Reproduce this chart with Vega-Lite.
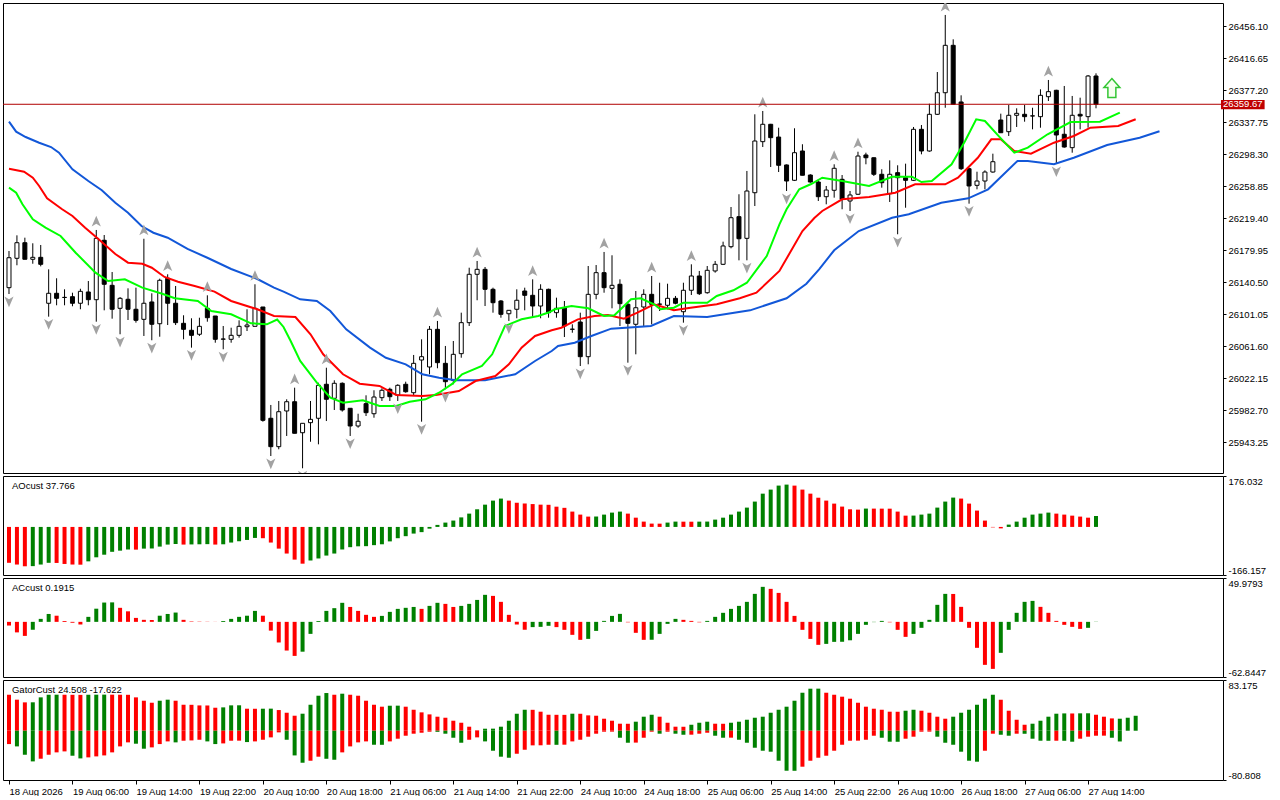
{
"$schema": "https://vega.github.io/schema/vega-lite/v6.json",
"background": "white",
"padding": {"left": 2, "top": 2, "right": 0, "bottom": 0},
"spacing": 3,
"bounds": "flush",
"config": {
 "font": "Liberation Sans",
 "view": {"stroke": "#000000", "strokeWidth": 1},
 "axis": {"grid": false, "domain": false, "labelFont": "Liberation Sans", "labelFontSize": 9.5, "labelColor": "#000000", "tickColor": "#000000", "tickSize": 3, "labelPadding": 2, "labelOverlap": false}
},
"datasets": {
 "candles": [
{"i":0,"o":26133.7,"h":26178.9,"l":26125.9,"c":26170.6,"fd":1},
{"i":1,"o":26169.9,"h":26198.2,"l":26161.3,"c":26189.1},
{"i":2,"o":26189.1,"h":26195.3,"l":26168.7,"c":26168.7},
{"i":3,"o":26168.7,"h":26188.4,"l":26163.2,"c":26171.1},
{"i":4,"o":26171.1,"h":26186.3,"l":26160.0,"c":26162.5},
{"i":5,"o":26114.5,"h":26156.3,"l":26098.0,"c":26126.8,"fd":1},
{"i":6,"o":26126.8,"h":26145.3,"l":26112.0,"c":26120.6},
{"i":7,"o":26121.6,"h":26131.7,"l":26112.0,"c":26121.8},
{"i":8,"o":26122.6,"h":26127.5,"l":26110.8,"c":26114.5},
{"i":9,"o":26114.5,"h":26132.4,"l":26107.1,"c":26129.2},
{"i":10,"o":26128.4,"h":26141.9,"l":26112.0,"c":26118.9},
{"i":11,"o":26118.9,"h":26204.8,"l":26091.8,"c":26194.5,"fu":1,"fd":1},
{"i":12,"o":26192.1,"h":26198.6,"l":26105.8,"c":26137.9},
{"i":13,"o":26136.6,"h":26153.0,"l":26095.5,"c":26107.1},
{"i":14,"o":26108.3,"h":26122.2,"l":26076.3,"c":26120.6,"fd":1},
{"i":15,"o":26119.4,"h":26132.9,"l":26093.9,"c":26107.1},
{"i":16,"o":26107.1,"h":26133.7,"l":26090.6,"c":26093.5},
{"i":17,"o":26094.7,"h":26194.0,"l":26074.2,"c":26114.5,"fu":1},
{"i":18,"o":26116.1,"h":26126.8,"l":26068.9,"c":26088.6,"fd":1},
{"i":19,"o":26089.3,"h":26144.8,"l":26073.3,"c":26142.8},
{"i":20,"o":26145.3,"h":26150.2,"l":26087.7,"c":26114.5,"fu":1},
{"i":21,"o":26114.5,"h":26135.8,"l":26087.7,"c":26090.6},
{"i":22,"o":26089.8,"h":26099.7,"l":26070.1,"c":26082.4},
{"i":23,"o":26081.2,"h":26096.0,"l":26059.8,"c":26075.0,"fd":1},
{"i":24,"o":26076.3,"h":26096.7,"l":26074.2,"c":26086.1},
{"i":25,"o":26108.3,"h":26124.3,"l":26091.8,"c":26096.7,"fu":1},
{"i":26,"o":26098.8,"h":26098.8,"l":26065.9,"c":26070.1},
{"i":27,"o":26070.2,"h":26086.5,"l":26057.8,"c":26070.5,"fd":1},
{"i":28,"o":26070.1,"h":26084.4,"l":26065.9,"c":26075.0},
{"i":29,"o":26075.0,"h":26093.5,"l":26072.1,"c":26086.1},
{"i":30,"o":26085.6,"h":26107.1,"l":26080.3,"c":26087.7},
{"i":31,"o":26086.1,"h":26137.9,"l":26086.1,"c":26108.3,"fu":1},
{"i":32,"o":26109.9,"h":26109.9,"l":25968.6,"c":25970.3},
{"i":33,"o":25972.8,"h":25989.2,"l":25926.3,"c":25937.8,"fd":1},
{"i":34,"o":25937.8,"h":25994.1,"l":25934.6,"c":25980.9},
{"i":35,"o":25981.8,"h":25996.2,"l":25951.0,"c":25993.2},
{"i":36,"o":25993.2,"h":26010.5,"l":25954.3,"c":25954.3,"fu":1},
{"i":37,"o":25955.0,"h":25966.6,"l":25911.2,"c":25966.6,"fd":1},
{"i":38,"o":25967.4,"h":25994.1,"l":25943.9,"c":25971.5},
{"i":39,"o":25972.8,"h":26016.6,"l":25940.7,"c":26013.4},
{"i":40,"o":26014.7,"h":26035.1,"l":25969.4,"c":25996.2,"fu":1},
{"i":41,"o":25997.4,"h":26019.6,"l":25983.0,"c":26015.9},
{"i":42,"o":26015.9,"h":26017.0,"l":25981.0,"c":25983.0},
{"i":43,"o":25985.1,"h":25985.1,"l":25951.0,"c":25963.3,"fd":1},
{"i":44,"o":25963.3,"h":25978.4,"l":25961.2,"c":25969.1},
{"i":45,"o":25990.8,"h":26001.1,"l":25975.6,"c":25979.7},
{"i":46,"o":25978.4,"h":26007.3,"l":25973.5,"c":25999.0},
{"i":47,"o":25998.2,"h":26009.7,"l":25994.1,"c":26007.3},
{"i":48,"o":26008.5,"h":26010.5,"l":25994.1,"c":25999.4},
{"i":49,"o":26001.5,"h":26014.7,"l":25994.1,"c":26013.4,"fd":1},
{"i":50,"o":26014.7,"h":26017.9,"l":26004.3,"c":26005.5},
{"i":51,"o":26004.3,"h":26050.8,"l":26000.2,"c":26040.5},
{"i":52,"o":26044.6,"h":26070.1,"l":25968.6,"c":26048.7,"fd":1},
{"i":53,"o":26036.0,"h":26086.5,"l":26027.0,"c":26082.4},
{"i":54,"o":26082.4,"h":26092.7,"l":26034.4,"c":26041.3,"fu":1},
{"i":55,"o":26040.5,"h":26061.9,"l":26008.5,"c":26017.9,"fd":1},
{"i":56,"o":26019.6,"h":26068.0,"l":26014.7,"c":26051.6},
{"i":57,"o":26052.4,"h":26102.9,"l":26047.4,"c":26090.6},
{"i":58,"o":26090.6,"h":26158.3,"l":26086.5,"c":26150.2},
{"i":59,"o":26150.2,"h":26166.6,"l":26118.2,"c":26156.3,"fu":1},
{"i":60,"o":26156.3,"h":26159.2,"l":26111.1,"c":26131.7},
{"i":61,"o":26131.7,"h":26133.7,"l":26102.9,"c":26115.2},
{"i":62,"o":26117.3,"h":26118.5,"l":26096.7,"c":26100.9},
{"i":63,"o":26101.6,"h":26105.8,"l":26092.7,"c":26105.8,"fd":1},
{"i":64,"o":26107.1,"h":26131.7,"l":26096.0,"c":26118.2},
{"i":65,"o":26129.6,"h":26133.7,"l":26105.8,"c":26124.3},
{"i":66,"o":26124.3,"h":26144.0,"l":26097.6,"c":26111.1,"fu":1},
{"i":67,"o":26111.1,"h":26137.9,"l":26096.0,"c":26131.7},
{"i":68,"o":26131.7,"h":26132.5,"l":26096.7,"c":26102.9},
{"i":69,"o":26102.9,"h":26121.4,"l":26096.7,"c":26108.3},
{"i":70,"o":26109.0,"h":26117.3,"l":26072.9,"c":26086.5},
{"i":71,"o":26082.4,"h":26088.6,"l":26078.2,"c":26082.6},
{"i":72,"o":26091.4,"h":26102.9,"l":26037.2,"c":26048.7,"fd":1},
{"i":73,"o":26048.7,"h":26160.4,"l":26039.3,"c":26125.5},
{"i":74,"o":26125.5,"h":26161.6,"l":26119.4,"c":26152.2},
{"i":75,"o":26152.2,"h":26177.7,"l":26127.5,"c":26133.7,"fu":1},
{"i":76,"o":26132.9,"h":26173.6,"l":26108.3,"c":26136.6},
{"i":77,"o":26137.9,"h":26144.0,"l":26086.5,"c":26114.0},
{"i":78,"o":26113.2,"h":26115.2,"l":26041.3,"c":26089.8,"fd":1},
{"i":79,"o":26088.6,"h":26129.6,"l":26051.6,"c":26109.0},
{"i":80,"o":26109.9,"h":26131.7,"l":26086.5,"c":26125.5},
{"i":81,"o":26125.5,"h":26148.1,"l":26088.6,"c":26113.2,"fu":1},
{"i":82,"o":26113.2,"h":26139.8,"l":26105.0,"c":26113.6},
{"i":83,"o":26112.0,"h":26138.6,"l":26107.1,"c":26120.6},
{"i":84,"o":26120.6,"h":26123.5,"l":26113.2,"c":26114.5},
{"i":85,"o":26104.1,"h":26139.8,"l":26090.6,"c":26130.5,"fd":1},
{"i":86,"o":26130.5,"h":26162.5,"l":26124.7,"c":26148.1,"fu":1},
{"i":87,"o":26148.1,"h":26154.3,"l":26124.7,"c":26126.3},
{"i":88,"o":26127.5,"h":26160.4,"l":26126.3,"c":26155.1},
{"i":89,"o":26154.3,"h":26166.6,"l":26152.2,"c":26162.5},
{"i":90,"o":26162.5,"h":26190.4,"l":26161.6,"c":26185.1},
{"i":91,"o":26184.2,"h":26233.1,"l":26182.2,"c":26219.9},
{"i":92,"o":26221.2,"h":26248.8,"l":26167.4,"c":26194.0},
{"i":93,"o":26194.5,"h":26277.5,"l":26167.4,"c":26252.8,"fd":1},
{"i":94,"o":26250.7,"h":26347.3,"l":26234.3,"c":26314.4},
{"i":95,"o":26313.6,"h":26351.4,"l":26307.0,"c":26335.0,"fu":1},
{"i":96,"o":26335.0,"h":26335.5,"l":26282.4,"c":26318.5},
{"i":97,"o":26319.3,"h":26330.8,"l":26276.2,"c":26284.5},
{"i":98,"o":26284.9,"h":26285.5,"l":26252.8,"c":26265.1,"fd":1},
{"i":99,"o":26266.0,"h":26330.1,"l":26265.1,"c":26300.0},
{"i":100,"o":26302.1,"h":26310.4,"l":26272.2,"c":26272.2},
{"i":101,"o":26272.5,"h":26273.4,"l":26263.0,"c":26263.9},
{"i":102,"o":26263.9,"h":26267.2,"l":26240.5,"c":26245.8},
{"i":103,"o":26245.8,"h":26259.0,"l":26236.4,"c":26254.0},
{"i":104,"o":26253.7,"h":26285.7,"l":26244.6,"c":26280.8,"fu":1},
{"i":105,"o":26267.2,"h":26272.5,"l":26230.3,"c":26242.6},
{"i":106,"o":26240.5,"h":26252.8,"l":26228.2,"c":26247.9,"fd":1},
{"i":107,"o":26248.8,"h":26301.2,"l":26247.9,"c":26295.9,"fu":1},
{"i":108,"o":26297.2,"h":26300.0,"l":26285.7,"c":26293.8},
{"i":109,"o":26293.8,"h":26294.0,"l":26271.3,"c":26273.4},
{"i":110,"o":26273.4,"h":26279.6,"l":26256.9,"c":26263.0},
{"i":111,"o":26249.5,"h":26290.6,"l":26239.3,"c":26273.4},
{"i":112,"o":26275.4,"h":26284.5,"l":26199.5,"c":26269.2,"fd":1},
{"i":113,"o":26269.2,"h":26286.5,"l":26232.2,"c":26266.0},
{"i":114,"o":26266.0,"h":26331.7,"l":26265.1,"c":26328.8},
{"i":115,"o":26328.8,"h":26334.1,"l":26298.0,"c":26302.1},
{"i":116,"o":26302.1,"h":26360.4,"l":26301.2,"c":26347.3},
{"i":117,"o":26347.3,"h":26399.4,"l":26346.5,"c":26373.9},
{"i":118,"o":26373.9,"h":26469.7,"l":26355.4,"c":26432.3,"fu":1},
{"i":119,"o":26432.3,"h":26439.7,"l":26359.0,"c":26359.6},
{"i":120,"o":26362.5,"h":26370.7,"l":26278.7,"c":26280.3},
{"i":121,"o":26280.3,"h":26281.5,"l":26237.2,"c":26259.0,"fd":1},
{"i":122,"o":26259.8,"h":26276.6,"l":26254.9,"c":26265.1},
{"i":123,"o":26265.1,"h":26278.3,"l":26254.9,"c":26276.2},
{"i":124,"o":26276.2,"h":26298.8,"l":26275.4,"c":26288.9},
{"i":125,"o":26340.3,"h":26348.1,"l":26324.6,"c":26324.6},
{"i":126,"o":26325.9,"h":26358.8,"l":26320.6,"c":26346.1},
{"i":127,"o":26346.1,"h":26354.7,"l":26331.7,"c":26348.5},
{"i":128,"o":26347.3,"h":26358.8,"l":26338.2,"c":26344.4},
{"i":129,"o":26345.2,"h":26355.4,"l":26328.8,"c":26345.4},
{"i":130,"o":26344.4,"h":26378.1,"l":26330.8,"c":26370.7},
{"i":131,"o":26369.0,"h":26389.6,"l":26363.7,"c":26375.2,"fu":1},
{"i":132,"o":26376.9,"h":26377.5,"l":26286.1,"c":26321.8,"fd":1},
{"i":133,"o":26322.7,"h":26382.2,"l":26306.2,"c":26307.0},
{"i":134,"o":26306.2,"h":26369.9,"l":26300.0,"c":26346.1},
{"i":135,"o":26347.3,"h":26367.8,"l":26328.8,"c":26345.2},
{"i":136,"o":26344.4,"h":26395.7,"l":26330.8,"c":26394.5},
{"i":137,"o":26394.5,"h":26397.8,"l":26354.7,"c":26359.67}
 ],
 "jaw": [
{"i":0,"v":26338.2},{"i":0.9,"v":26325.9},{"i":2.1,"v":26319.3},{"i":3.8,"v":26312.3},{"i":5.3,"v":26307.0},{"i":6.3,"v":26300.0},{"i":8.0,"v":26279.6},{"i":10.0,"v":26265.1},{"i":11.7,"v":26253.7},{"i":13.4,"v":26238.4},{"i":15.0,"v":26226.1},{"i":16.7,"v":26209.7},{"i":18.2,"v":26201.4},{"i":20,"v":26195.3},{"i":22.5,"v":26181.4},{"i":25,"v":26170.6},{"i":28,"v":26156.7},{"i":31.3,"v":26144.4},{"i":33.4,"v":26133.7},{"i":34.6,"v":26128.8},{"i":36.7,"v":26119.4},{"i":38.8,"v":26117.3},{"i":40.5,"v":26105.0},{"i":42.5,"v":26082.4},{"i":45.5,"v":26059.8},{"i":47.5,"v":26047.4},{"i":50,"v":26039.3},{"i":52.1,"v":26027.0},{"i":54.2,"v":26022.8},{"i":56.3,"v":26019.6},{"i":60,"v":26019.6},{"i":63.8,"v":26027.0},{"i":66.3,"v":26043.4},{"i":68.4,"v":26055.7},{"i":69.2,"v":26061.9},{"i":71.3,"v":26065.9},{"i":73.4,"v":26074.2},{"i":75.9,"v":26083.2},{"i":80.9,"v":26086.5},{"i":83.8,"v":26098.8},{"i":88,"v":26097.6},{"i":93.4,"v":26105.8},{"i":98,"v":26120.6},{"i":100.5,"v":26138.6},{"i":102.1,"v":26156.3},{"i":104,"v":26179.8},{"i":107.1,"v":26203.5},{"i":111.3,"v":26219.9},{"i":113.4,"v":26224.1},{"i":117.5,"v":26238.4},{"i":120.9,"v":26243.8},{"i":123.4,"v":26254.9},{"i":127.1,"v":26289.8},{"i":128.4,"v":26289.8},{"i":131.7,"v":26285.7},{"i":134.2,"v":26293.8},{"i":138.4,"v":26309.5},{"i":142.5,"v":26318.5},{"i":145,"v":26326.5}
 ],
 "teeth": [
{"i":0,"v":26280.3},{"i":1.9,"v":26276.6},{"i":3,"v":26269.2},{"i":3.8,"v":26259.0},{"i":4.8,"v":26243.8},{"i":6.7,"v":26230.3},{"i":8,"v":26222.0},{"i":9.6,"v":26207.6},{"i":11.3,"v":26193.3},{"i":13.4,"v":26175.2},{"i":15,"v":26164.5},{"i":16.8,"v":26163.2},{"i":18,"v":26158.3},{"i":19.6,"v":26146.9},{"i":21.3,"v":26141.1},{"i":23.4,"v":26135.8},{"i":25.9,"v":26128.8},{"i":28,"v":26117.3},{"i":31.3,"v":26107.1},{"i":33.4,"v":26098.8},{"i":36.1,"v":26097.6},{"i":38,"v":26076.3},{"i":39.6,"v":26051.6},{"i":42.1,"v":26027.0},{"i":44.2,"v":26015.4},{"i":46.7,"v":26012.6},{"i":48.8,"v":26001.5},{"i":52.1,"v":26000.2},{"i":53.8,"v":26001.5},{"i":56.7,"v":26006.4},{"i":58.8,"v":26018.7},{"i":61.3,"v":26024.9},{"i":63,"v":26039.3},{"i":64.6,"v":26059.8},{"i":66.3,"v":26074.2},{"i":68.4,"v":26081.2},{"i":69.6,"v":26084.4},{"i":71.7,"v":26094.7},{"i":73.8,"v":26098.8},{"i":75.5,"v":26100.0},{"i":77.5,"v":26095.5},{"i":79.2,"v":26102.9},{"i":81.3,"v":26113.2},{"i":83.8,"v":26105.8},{"i":85.9,"v":26109.0},{"i":89.2,"v":26113.2},{"i":92.1,"v":26120.6},{"i":94.2,"v":26127.5},{"i":97.1,"v":26154.3},{"i":100,"v":26203.5},{"i":101.5,"v":26219.6},{"i":102.5,"v":26228.2},{"i":105,"v":26242.6},{"i":108.4,"v":26245.4},{"i":111.7,"v":26250.7},{"i":114.2,"v":26261.1},{"i":118,"v":26261.1},{"i":119.6,"v":26269.2},{"i":122.1,"v":26293.8},{"i":123.8,"v":26316.5},{"i":125,"v":26316.5},{"i":126.7,"v":26302.1},{"i":128.8,"v":26298.8},{"i":131.7,"v":26312.3},{"i":134.2,"v":26320.6},{"i":136.3,"v":26330.8},{"i":139.8,"v":26332.9},{"i":142,"v":26341.2}
 ],
 "lips": [
{"i":0,"v":26256.9},{"i":0.9,"v":26250.7},{"i":1.7,"v":26236.4},{"i":3,"v":26218.0},{"i":4.6,"v":26207.6},{"i":6.5,"v":26197.4},{"i":8.4,"v":26176.8},{"i":10.9,"v":26152.2},{"i":12.5,"v":26141.9},{"i":14.6,"v":26144.0},{"i":16.8,"v":26133.7},{"i":19.3,"v":26126.3},{"i":20.9,"v":26120.6},{"i":23.8,"v":26117.3},{"i":25.5,"v":26105.0},{"i":28,"v":26100.9},{"i":30.5,"v":26089.8},{"i":32.5,"v":26088.6},{"i":33.8,"v":26094.5},{"i":34.6,"v":26085.3},{"i":35.5,"v":26068.0},{"i":36.7,"v":26043.4},{"i":38.8,"v":26016.6},{"i":40.5,"v":25998.2},{"i":42.1,"v":25992.0},{"i":44.6,"v":25995.0},{"i":46.7,"v":25987.9},{"i":48.8,"v":25987.9},{"i":50.5,"v":25993.2},{"i":52.5,"v":25996.2},{"i":54.2,"v":26004.3},{"i":55.9,"v":26015.4},{"i":57.1,"v":26027.0},{"i":59.6,"v":26037.2},{"i":60.9,"v":26051.6},{"i":62.5,"v":26086.5},{"i":64.6,"v":26094.7},{"i":66.7,"v":26098.8},{"i":68,"v":26103.1},{"i":68.8,"v":26107.1},{"i":70.9,"v":26111.1},{"i":73,"v":26108.3},{"i":75,"v":26098.8},{"i":76.3,"v":26099.7},{"i":78.4,"v":26119.4},{"i":79.6,"v":26120.6},{"i":81.3,"v":26113.2},{"i":82.1,"v":26107.1},{"i":83.8,"v":26109.0},{"i":85,"v":26115.2},{"i":88,"v":26115.2},{"i":89.2,"v":26123.5},{"i":91.3,"v":26130.5},{"i":93,"v":26139.8},{"i":95.5,"v":26172.7},{"i":97.1,"v":26211.8},{"i":98,"v":26230.3},{"i":99.6,"v":26254.9},{"i":101.1,"v":26261.4},{"i":102.5,"v":26269.2},{"i":105,"v":26265.1},{"i":108.4,"v":26259.0},{"i":111.3,"v":26270.4},{"i":113.8,"v":26270.4},{"i":115,"v":26263.9},{"i":116.3,"v":26265.1},{"i":118.8,"v":26285.7},{"i":120.5,"v":26314.4},{"i":121.9,"v":26341.2},{"i":123,"v":26339.1},{"i":125,"v":26317.7},{"i":126.7,"v":26300.0},{"i":128.4,"v":26306.2},{"i":130.9,"v":26322.7},{"i":133.8,"v":26337.8},{"i":137.5,"v":26338.2},{"i":140,"v":26349.3}
 ],
 "signal": [{"i":139,"p":26379.7}],
 "ind": [
{"i":0,"ao":-124,"aoc":"r","ac":-4.2,"acc":"r","gu":59,"guc":"r","gd":-21.9,"gdc":"r"},
{"i":1,"ao":-130,"aoc":"r","ac":-12,"acc":"r","gu":50.9,"guc":"r","gd":-25.7,"gdc":"g"},
{"i":2,"ao":-136,"aoc":"r","ac":-16,"acc":"r","gu":46.5,"guc":"r","gd":-39.4,"gdc":"g"},
{"i":3,"ao":-135.5,"aoc":"g","ac":-9,"acc":"g","gu":46.6,"guc":"g","gd":-50.3,"gdc":"g"},
{"i":4,"ao":-130,"aoc":"g","ac":3.4,"acc":"g","gu":54.7,"guc":"g","gd":-45.9,"gdc":"r"},
{"i":5,"ao":-124,"aoc":"g","ac":9,"acc":"g","gu":59,"guc":"g","gd":-39.4,"gdc":"r"},
{"i":6,"ao":-124.5,"aoc":"r","ac":7,"acc":"r","gu":59.1,"guc":"g","gd":-35.5,"gdc":"r"},
{"i":7,"ao":-128,"aoc":"r","ac":1,"acc":"r","gu":59,"guc":"r","gd":-33.9,"gdc":"r"},
{"i":8,"ao":-130,"aoc":"r","ac":-1,"acc":"r","gu":58.9,"guc":"r","gd":-41,"gdc":"g"},
{"i":9,"ao":-130.5,"aoc":"r","ac":-3,"acc":"r","gu":58.8,"guc":"r","gd":-45.4,"gdc":"g"},
{"i":10,"ao":-119,"aoc":"g","ac":5.7,"acc":"g","gu":59,"guc":"g","gd":-43.7,"gdc":"r"},
{"i":11,"ao":-105,"aoc":"g","ac":15,"acc":"g","gu":59.1,"guc":"g","gd":-42.1,"gdc":"r"},
{"i":12,"ao":-96,"aoc":"g","ac":22,"acc":"g","gu":59.2,"guc":"g","gd":-40.5,"gdc":"r"},
{"i":13,"ao":-86,"aoc":"g","ac":22.2,"acc":"g","gu":59.1,"guc":"r","gd":-35.5,"gdc":"r"},
{"i":14,"ao":-82,"aoc":"g","ac":16,"acc":"r","gu":59,"guc":"r","gd":-25.7,"gdc":"r"},
{"i":15,"ao":-78,"aoc":"g","ac":12,"acc":"r","gu":58.9,"guc":"r","gd":-19.1,"gdc":"r"},
{"i":16,"ao":-78.5,"aoc":"r","ac":4.5,"acc":"r","gu":54.7,"guc":"r","gd":-21.3,"gdc":"g"},
{"i":17,"ao":-75,"aoc":"g","ac":2.3,"acc":"r","gu":49.2,"guc":"r","gd":-29.5,"gdc":"g"},
{"i":18,"ao":-74.5,"aoc":"g","ac":2.1,"acc":"r","gu":45.9,"guc":"r","gd":-27.3,"gdc":"r"},
{"i":19,"ao":-68,"aoc":"g","ac":7,"acc":"g","gu":49.2,"guc":"g","gd":-21.9,"gdc":"r"},
{"i":20,"ao":-61,"aoc":"g","ac":9,"acc":"g","gu":50.9,"guc":"g","gd":-17.5,"gdc":"r"},
{"i":21,"ao":-59,"aoc":"g","ac":10.6,"acc":"g","gu":49.2,"guc":"r","gd":-19.1,"gdc":"g"},
{"i":22,"ao":-61,"aoc":"r","ac":2.3,"acc":"r","gu":42.6,"guc":"r","gd":-16.4,"gdc":"r"},
{"i":23,"ao":-60.5,"aoc":"g","ac":0.5,"acc":"r","gu":42.5,"guc":"r","gd":-15.9,"gdc":"r"},
{"i":24,"ao":-60,"aoc":"g","ac":0.3,"acc":"r","gu":41.5,"guc":"r","gd":-14.8,"gdc":"r"},
{"i":25,"ao":-59.5,"aoc":"g","ac":0.2,"acc":"r","gu":41.4,"guc":"r","gd":-17.5,"gdc":"g"},
{"i":26,"ao":-61,"aoc":"r","ac":0.1,"acc":"r","gu":37.7,"guc":"r","gd":-21.9,"gdc":"g"},
{"i":27,"ao":-60,"aoc":"g","ac":1,"acc":"g","gu":38.3,"guc":"g","gd":-20.8,"gdc":"r"},
{"i":28,"ao":-54,"aoc":"g","ac":3.4,"acc":"g","gu":41.6,"guc":"g","gd":-16.4,"gdc":"r"},
{"i":29,"ao":-49.5,"aoc":"g","ac":5.7,"acc":"g","gu":41.7,"guc":"g","gd":-16.3,"gdc":"r"},
{"i":30,"ao":-45,"aoc":"g","ac":7,"acc":"g","gu":36.1,"guc":"r","gd":-18.6,"gdc":"g"},
{"i":31,"ao":-38,"aoc":"g","ac":12.5,"acc":"g","gu":36,"guc":"r","gd":-17.5,"gdc":"r"},
{"i":32,"ao":-39,"aoc":"r","ac":7,"acc":"r","gu":36.1,"guc":"g","gd":-14.8,"gdc":"r"},
{"i":33,"ao":-54,"aoc":"r","ac":-10,"acc":"r","gu":36.2,"guc":"g","gd":-10.9,"gdc":"r"},
{"i":34,"ao":-75,"aoc":"r","ac":-23.5,"acc":"r","gu":33.9,"guc":"r","gd":-2.7,"gdc":"r"},
{"i":35,"ao":-92,"aoc":"r","ac":-32.7,"acc":"r","gu":29.5,"guc":"r","gd":-14.8,"gdc":"g"},
{"i":36,"ao":-113,"aoc":"r","ac":-38.8,"acc":"r","gu":24.6,"guc":"r","gd":-40.5,"gdc":"g"},
{"i":37,"ao":-127,"aoc":"r","ac":-34,"acc":"g","gu":27.9,"guc":"g","gd":-52.5,"gdc":"g"},
{"i":38,"ao":-116,"aoc":"g","ac":-13.7,"acc":"g","gu":42.6,"guc":"g","gd":-49.2,"gdc":"r"},
{"i":39,"ao":-109,"aoc":"g","ac":1,"acc":"g","gu":57.4,"guc":"g","gd":-42.6,"gdc":"r"},
{"i":40,"ao":-99,"aoc":"g","ac":12.5,"acc":"g","gu":61.8,"guc":"g","gd":-46,"gdc":"g"},
{"i":41,"ao":-92,"aoc":"g","ac":15.6,"acc":"g","gu":59,"guc":"r","gd":-47.6,"gdc":"g"},
{"i":42,"ao":-78,"aoc":"g","ac":21.7,"acc":"g","gu":60.7,"guc":"g","gd":-35.5,"gdc":"r"},
{"i":43,"ao":-70,"aoc":"g","ac":17,"acc":"r","gu":59,"guc":"r","gd":-25.7,"gdc":"r"},
{"i":44,"ao":-67,"aoc":"g","ac":12.5,"acc":"r","gu":57.4,"guc":"r","gd":-19.1,"gdc":"r"},
{"i":45,"ao":-66.5,"aoc":"g","ac":8,"acc":"r","gu":49.2,"guc":"r","gd":-17.5,"gdc":"r"},
{"i":46,"ao":-63,"aoc":"g","ac":5.7,"acc":"r","gu":42.6,"guc":"r","gd":-23,"gdc":"g"},
{"i":47,"ao":-60,"aoc":"g","ac":6.8,"acc":"g","gu":39.4,"guc":"r","gd":-23.1,"gdc":"g"},
{"i":48,"ao":-50,"aoc":"g","ac":11.4,"acc":"g","gu":41,"guc":"g","gd":-17.5,"gdc":"r"},
{"i":49,"ao":-39,"aoc":"g","ac":14.8,"acc":"g","gu":41.1,"guc":"g","gd":-13.1,"gdc":"r"},
{"i":50,"ao":-32,"aoc":"g","ac":16,"acc":"g","gu":39.4,"guc":"r","gd":-8.2,"gdc":"r"},
{"i":51,"ao":-23,"aoc":"g","ac":17,"acc":"g","gu":34.4,"guc":"r","gd":-4.9,"gdc":"r"},
{"i":52,"ao":-18,"aoc":"g","ac":14.8,"acc":"r","gu":30.1,"guc":"r","gd":-3.3,"gdc":"r"},
{"i":53,"ao":-6,"aoc":"g","ac":18.2,"acc":"g","gu":26.8,"guc":"r","gd":-1.6,"gdc":"r"},
{"i":54,"ao":7,"aoc":"g","ac":21.7,"acc":"g","gu":23,"guc":"r","gd":-1.8,"gdc":"g"},
{"i":55,"ao":15,"aoc":"g","ac":20.5,"acc":"r","gu":21.3,"guc":"r","gd":-4.9,"gdc":"g"},
{"i":56,"ao":22,"aoc":"g","ac":17,"acc":"r","gu":16.4,"guc":"r","gd":-11.5,"gdc":"g"},
{"i":57,"ao":33,"aoc":"g","ac":18.2,"acc":"g","gu":13.1,"guc":"r","gd":-19.7,"gdc":"g"},
{"i":58,"ao":46,"aoc":"g","ac":20.5,"acc":"g","gu":6.6,"guc":"r","gd":-14.8,"gdc":"r"},
{"i":59,"ao":61,"aoc":"g","ac":25,"acc":"g","gu":0.8,"guc":"r","gd":-10.9,"gdc":"r"},
{"i":60,"ao":77,"aoc":"g","ac":30.8,"acc":"g","gu":3.3,"guc":"g","gd":-17.5,"gdc":"g"},
{"i":61,"ao":91,"aoc":"g","ac":29.6,"acc":"r","gu":3.4,"guc":"g","gd":-32.8,"gdc":"g"},
{"i":62,"ao":98,"aoc":"g","ac":22.8,"acc":"r","gu":6.6,"guc":"g","gd":-42.6,"gdc":"g"},
{"i":63,"ao":91,"aoc":"r","ac":8,"acc":"r","gu":16.4,"guc":"g","gd":-44.3,"gdc":"g"},
{"i":64,"ao":84,"aoc":"r","ac":-3,"acc":"r","gu":27.9,"guc":"g","gd":-37.7,"gdc":"r"},
{"i":65,"ao":81,"aoc":"r","ac":-9,"acc":"r","gu":34.4,"guc":"g","gd":-31.2,"gdc":"r"},
{"i":66,"ao":79,"aoc":"r","ac":-6,"acc":"g","gu":34.3,"guc":"r","gd":-24,"gdc":"r"},
{"i":67,"ao":77,"aoc":"r","ac":-5.7,"acc":"g","gu":31.2,"guc":"r","gd":-23.9,"gdc":"r"},
{"i":68,"ao":76.5,"aoc":"r","ac":-4.5,"acc":"g","gu":26.2,"guc":"r","gd":-23,"gdc":"r"},
{"i":69,"ao":70,"aoc":"r","ac":-6,"acc":"r","gu":26.1,"guc":"r","gd":-23.1,"gdc":"g"},
{"i":70,"ao":66,"aoc":"r","ac":-9.1,"acc":"r","gu":26,"guc":"r","gd":-22.9,"gdc":"r"},
{"i":71,"ao":53,"aoc":"r","ac":-14.8,"acc":"r","gu":27.9,"guc":"g","gd":-17.5,"gdc":"r"},
{"i":72,"ao":42.6,"aoc":"r","ac":-20.5,"acc":"r","gu":27.8,"guc":"r","gd":-14.8,"gdc":"r"},
{"i":73,"ao":35.7,"aoc":"r","ac":-19.4,"acc":"g","gu":25.2,"guc":"r","gd":-9.8,"gdc":"r"},
{"i":74,"ao":36,"aoc":"g","ac":-10.3,"acc":"g","gu":24.6,"guc":"r","gd":-4.9,"gdc":"r"},
{"i":75,"ao":42.6,"aoc":"g","ac":1.1,"acc":"g","gu":19.7,"guc":"r","gd":-1.6,"gdc":"r"},
{"i":76,"ao":49.5,"aoc":"g","ac":6.8,"acc":"g","gu":16.4,"guc":"r","gd":-1.5,"gdc":"r"},
{"i":77,"ao":53,"aoc":"g","ac":9.1,"acc":"g","gu":11.5,"guc":"r","gd":-11.5,"gdc":"g"},
{"i":78,"ao":46,"aoc":"r","ac":-0.5,"acc":"r","gu":11.4,"guc":"r","gd":-19.7,"gdc":"g"},
{"i":79,"ao":32,"aoc":"r","ac":-12.5,"acc":"r","gu":14.8,"guc":"g","gd":-19.5,"gdc":"r"},
{"i":80,"ao":18.4,"aoc":"r","ac":-20.5,"acc":"r","gu":23,"guc":"g","gd":-11.5,"gdc":"r"},
{"i":81,"ao":11.5,"aoc":"r","ac":-20.4,"acc":"g","gu":26.2,"guc":"g","gd":-1.6,"gdc":"r"},
{"i":82,"ao":11.3,"aoc":"r","ac":-13.7,"acc":"g","gu":23,"guc":"r","gd":-4.9,"gdc":"g"},
{"i":83,"ao":15,"aoc":"g","ac":-2.3,"acc":"g","gu":13.1,"guc":"r","gd":-1.6,"gdc":"r"},
{"i":84,"ao":18.4,"aoc":"g","ac":3.4,"acc":"g","gu":6.6,"guc":"r","gd":-4.9,"gdc":"g"},
{"i":85,"ao":18.2,"aoc":"r","ac":2.3,"acc":"r","gu":6.5,"guc":"r","gd":-6.6,"gdc":"g"},
{"i":86,"ao":18.1,"aoc":"r","ac":1.1,"acc":"r","gu":9.8,"guc":"g","gd":-6.5,"gdc":"r"},
{"i":87,"ao":18.3,"aoc":"g","ac":-0.5,"acc":"r","gu":13.1,"guc":"g","gd":-4.9,"gdc":"r"},
{"i":88,"ao":18.5,"aoc":"g","ac":1.1,"acc":"g","gu":14.8,"guc":"g","gd":-3.3,"gdc":"r"},
{"i":89,"ao":25.3,"aoc":"g","ac":5.7,"acc":"g","gu":11.5,"guc":"r","gd":-8.2,"gdc":"g"},
{"i":90,"ao":32,"aoc":"g","ac":10.3,"acc":"g","gu":11.4,"guc":"r","gd":-11.5,"gdc":"g"},
{"i":91,"ao":42.6,"aoc":"g","ac":14.8,"acc":"g","gu":13.1,"guc":"g","gd":-11.4,"gdc":"r"},
{"i":92,"ao":53,"aoc":"g","ac":18.2,"acc":"g","gu":14.8,"guc":"g","gd":-14.8,"gdc":"g"},
{"i":93,"ao":66.8,"aoc":"g","ac":22.8,"acc":"g","gu":18,"guc":"g","gd":-19.7,"gdc":"g"},
{"i":94,"ao":87.6,"aoc":"g","ac":31.9,"acc":"g","gu":21.3,"guc":"g","gd":-27.9,"gdc":"g"},
{"i":95,"ao":115,"aoc":"g","ac":39.9,"acc":"g","gu":23,"guc":"g","gd":-32.8,"gdc":"g"},
{"i":96,"ao":129,"aoc":"g","ac":37.6,"acc":"r","gu":29.5,"guc":"g","gd":-34.4,"gdc":"g"},
{"i":97,"ao":142.9,"aoc":"g","ac":33,"acc":"r","gu":34.4,"guc":"g","gd":-49.2,"gdc":"g"},
{"i":98,"ao":146.3,"aoc":"g","ac":22.8,"acc":"r","gu":39.4,"guc":"g","gd":-65.6,"gdc":"g"},
{"i":99,"ao":142.8,"aoc":"r","ac":6.8,"acc":"r","gu":49.2,"guc":"g","gd":-65.7,"gdc":"g"},
{"i":100,"ao":129,"aoc":"r","ac":-9.1,"acc":"r","gu":62.3,"guc":"g","gd":-59,"gdc":"r"},
{"i":101,"ao":115,"aoc":"r","ac":-19.4,"acc":"r","gu":68.9,"guc":"g","gd":-49.2,"gdc":"r"},
{"i":102,"ao":101,"aoc":"r","ac":-26.2,"acc":"r","gu":69,"guc":"g","gd":-44.3,"gdc":"r"},
{"i":103,"ao":91,"aoc":"r","ac":-25.1,"acc":"g","gu":62.3,"guc":"r","gd":-41,"gdc":"r"},
{"i":104,"ao":80.6,"aoc":"r","ac":-22.8,"acc":"g","gu":59,"guc":"r","gd":-32.8,"gdc":"r"},
{"i":105,"ao":70.3,"aoc":"r","ac":-22.7,"acc":"g","gu":55.8,"guc":"r","gd":-23,"gdc":"r"},
{"i":106,"ao":61,"aoc":"r","ac":-21,"acc":"g","gu":52.5,"guc":"r","gd":-16.4,"gdc":"r"},
{"i":107,"ao":59.8,"aoc":"r","ac":-13.7,"acc":"g","gu":45.9,"guc":"r","gd":-16.3,"gdc":"r"},
{"i":108,"ao":63.4,"aoc":"g","ac":-3.4,"acc":"g","gu":39.4,"guc":"r","gd":-14.8,"gdc":"r"},
{"i":109,"ao":63.3,"aoc":"r","ac":-0.3,"acc":"g","gu":36.1,"guc":"r","gd":-8.2,"gdc":"r"},
{"i":110,"ao":63.2,"aoc":"r","ac":1.1,"acc":"g","gu":34.4,"guc":"r","gd":-11.5,"gdc":"g"},
{"i":111,"ao":63.1,"aoc":"r","ac":-0.5,"acc":"r","gu":31.2,"guc":"r","gd":-18,"gdc":"g"},
{"i":112,"ao":53,"aoc":"r","ac":-9.1,"acc":"r","gu":31.1,"guc":"r","gd":-18.1,"gdc":"g"},
{"i":113,"ao":39,"aoc":"r","ac":-17.1,"acc":"r","gu":32.8,"guc":"g","gd":-13.1,"gdc":"r"},
{"i":114,"ao":39.2,"aoc":"g","ac":-13.7,"acc":"g","gu":34.4,"guc":"g","gd":-9.8,"gdc":"r"},
{"i":115,"ao":42.6,"aoc":"g","ac":-6.8,"acc":"g","gu":32.8,"guc":"r","gd":-1.6,"gdc":"r"},
{"i":116,"ao":46,"aoc":"g","ac":2.3,"acc":"g","gu":29.5,"guc":"r","gd":-1.5,"gdc":"r"},
{"i":117,"ao":66.8,"aoc":"g","ac":19.4,"acc":"g","gu":23,"guc":"r","gd":-9.8,"gdc":"g"},
{"i":118,"ao":87.6,"aoc":"g","ac":31.9,"acc":"g","gu":19.7,"guc":"r","gd":-19.7,"gdc":"g"},
{"i":119,"ao":101.4,"aoc":"g","ac":31.8,"acc":"r","gu":23,"guc":"g","gd":-23,"gdc":"g"},
{"i":120,"ao":98,"aoc":"r","ac":17.1,"acc":"r","gu":29.5,"guc":"g","gd":-34.4,"gdc":"g"},
{"i":121,"ao":80.6,"aoc":"r","ac":-6.8,"acc":"r","gu":34.4,"guc":"g","gd":-49.2,"gdc":"g"},
{"i":122,"ao":56.5,"aoc":"r","ac":-29.6,"acc":"r","gu":42.6,"guc":"g","gd":-50.8,"gdc":"g"},
{"i":123,"ao":21.9,"aoc":"r","ac":-49,"acc":"r","gu":52.5,"guc":"g","gd":-32.8,"gdc":"r"},
{"i":124,"ao":-1.5,"aoc":"r","ac":-53.6,"acc":"r","gu":59,"guc":"g","gd":-4.9,"gdc":"r"},
{"i":125,"ao":-5,"aoc":"r","ac":-35.3,"acc":"g","gu":50.8,"guc":"r","gd":-6.6,"gdc":"g"},
{"i":126,"ao":8,"aoc":"g","ac":-9.1,"acc":"g","gu":32.8,"guc":"r","gd":-8.2,"gdc":"g"},
{"i":127,"ao":18.4,"aoc":"g","ac":10.3,"acc":"g","gu":18,"guc":"r","gd":-4.9,"gdc":"r"},
{"i":128,"ao":32,"aoc":"g","ac":22.8,"acc":"g","gu":9.8,"guc":"r","gd":-5,"gdc":"g"},
{"i":129,"ao":42.6,"aoc":"g","ac":23.9,"acc":"g","gu":11.5,"guc":"g","gd":-13.1,"gdc":"g"},
{"i":130,"ao":46,"aoc":"g","ac":17.1,"acc":"r","gu":16.4,"guc":"g","gd":-16.4,"gdc":"g"},
{"i":131,"ao":49.5,"aoc":"g","ac":10.3,"acc":"r","gu":23,"guc":"g","gd":-16.5,"gdc":"g"},
{"i":132,"ao":46,"aoc":"r","ac":1.1,"acc":"r","gu":27.9,"guc":"g","gd":-16.4,"gdc":"r"},
{"i":133,"ao":42.6,"aoc":"r","ac":-3.4,"acc":"r","gu":28.4,"guc":"g","gd":-16.5,"gdc":"g"},
{"i":134,"ao":39,"aoc":"r","ac":-5.7,"acc":"r","gu":28.3,"guc":"r","gd":-18,"gdc":"g"},
{"i":135,"ao":35.7,"aoc":"r","ac":-8,"acc":"r","gu":28.5,"guc":"g","gd":-13.1,"gdc":"r"},
{"i":136,"ao":32,"aoc":"r","ac":-6.8,"acc":"g","gu":28.6,"guc":"g","gd":-9.8,"gdc":"r"},
{"i":137,"ao":37.766,"aoc":"g","ac":0.1915,"acc":"g","gu":26.2,"guc":"r","gd":-8.2,"gdc":"r"},
{"i":138,"gu":23,"guc":"r","gd":-8.1,"gdc":"r"},
{"i":139,"gu":20.2,"guc":"r","gd":-11.5,"gdc":"g"},
{"i":140,"gu":19.7,"guc":"g","gd":-17.622,"gdc":"g"},
{"i":141,"gu":21.3,"guc":"g"},
{"i":142,"gu":24.508,"guc":"g"}
 ]
},
"vconcat": [
 {
  "width": 1220, "height": 470,
  "layer": [
   {"data": {"name": "candles"}, "mark": {"type": "rule", "color": "#000000", "strokeWidth": 1, "clip": true},
    "encoding": {
     "x": {"field": "i", "type": "quantitative", "scale": {"domain": [-0.125, 152.375], "nice": false, "zero": false}, "axis": null},
     "y": {"field": "l", "type": "quantitative", "scale": {"domain": [25905.38, 26484.44], "nice": false, "zero": false},
           "axis": {"orient": "right", "title": null, "format": ".2f", "tickCount": 30, "labelOverlap": false, "values": [25943.25, 25982.70, 26022.15, 26061.60, 26101.05, 26140.50, 26179.95, 26219.40, 26258.85, 26298.30, 26337.75, 26377.20, 26416.65, 26456.10]}},
     "y2": {"field": "h"}
    }},
   {"data": {"name": "candles"}, "mark": {"type": "bar", "size": 4, "stroke": "#000000", "strokeWidth": 1, "clip": true},
    "encoding": {
     "x": {"field": "i", "type": "quantitative"},
     "y": {"field": "o", "type": "quantitative"},
     "y2": {"field": "c"},
     "fill": {"condition": {"test": "datum.c >= datum.o", "value": "#ffffff"}, "value": "#000000"}
    }},
   {"data": {"name": "jaw"}, "mark": {"type": "line", "color": "#1257d8", "strokeWidth": 2, "clip": true},
    "encoding": {"x": {"field": "i", "type": "quantitative"}, "y": {"field": "v", "type": "quantitative"}}},
   {"data": {"name": "teeth"}, "mark": {"type": "line", "color": "#ff0000", "strokeWidth": 2, "clip": true},
    "encoding": {"x": {"field": "i", "type": "quantitative"}, "y": {"field": "v", "type": "quantitative"}}},
   {"data": {"name": "lips"}, "mark": {"type": "line", "color": "#00ff00", "strokeWidth": 2, "clip": true},
    "encoding": {"x": {"field": "i", "type": "quantitative"}, "y": {"field": "v", "type": "quantitative"}}},
   {"data": {"name": "candles"}, "transform": [{"filter": "datum.fu"}],
    "mark": {"type": "point", "shape": "M0,-1L0.75,0.75L0,0.3L-0.75,0.75Z", "size": 150, "filled": true, "color": "#a2a2a2", "opacity": 1, "yOffset": -8, "clip": true},
    "encoding": {"x": {"field": "i", "type": "quantitative"}, "y": {"field": "h", "type": "quantitative"}}},
   {"data": {"name": "candles"}, "transform": [{"filter": "datum.fd"}],
    "mark": {"type": "point", "shape": "M0,1L0.75,-0.75L0,-0.3L-0.75,-0.75Z", "size": 150, "filled": true, "color": "#a2a2a2", "opacity": 1, "yOffset": 7, "clip": true},
    "encoding": {"x": {"field": "i", "type": "quantitative"}, "y": {"field": "l", "type": "quantitative"}}},
   {"data": {"values": [{}]}, "mark": {"type": "rule", "color": "#b00000", "strokeWidth": 1},
    "encoding": {"y": {"datum": 26359.67, "type": "quantitative"}}},
   {"data": {"values": [{}]}, "mark": {"type": "rect", "color": "#c00000"},
    "encoding": {"x": {"datum": 152.75, "type": "quantitative"}, "x2": {"datum": 158.25}, "y": {"datum": 26365.0, "type": "quantitative"}, "y2": {"datum": 26353.5}}},
   {"data": {"values": [{}]}, "mark": {"type": "text", "align": "left", "baseline": "middle", "color": "#ffffff", "fontSize": 9.5, "font": "Liberation Sans"},
    "encoding": {"x": {"datum": 153.0, "type": "quantitative"}, "y": {"datum": 26359.67, "type": "quantitative"}, "text": {"value": "26359.67"}}},
   {"data": {"name": "signal"},
    "mark": {"type": "point", "shape": "M0,-1L0.84,-0.05L0.42,-0.05L0.42,1L-0.42,1L-0.42,-0.05L-0.84,-0.05Z", "size": 361, "fill": "#f6fff0", "stroke": "#33c633", "strokeWidth": 1.5, "opacity": 1, "clip": true},
    "encoding": {"x": {"field": "i", "type": "quantitative"}, "y": {"field": "p", "type": "quantitative"}}}
  ]
 },
 {
  "width": 1220, "height": 99,
  "layer": [
   {"data": {"name": "ind"},
    "transform": [{"filter": "isValid(datum.ao)"}],
    "mark": {"type": "bar", "size": 4, "clip": true},
    "encoding": {
     "x": {"field": "i", "type": "quantitative", "scale": {"domain": [-0.125, 152.375], "nice": false, "zero": false}, "axis": null},
     "y": {"field": "ao", "type": "quantitative", "scale": {"domain": [-166.157, 176.032], "nice": false, "zero": false},
           "axis": {"orient": "right", "title": null, "values": [-166.157, 176.032], "labelExpr": "datum.value > 0 ? '176.032' : '-166.157'", "labelFlush": true, "labelFlushOffset": 0}},
     "y2": {"datum": 0},
     "color": {"condition": {"test": "datum.aoc == 'g'", "value": "#008000"}, "value": "#ff0000"}
    }},
   {"data": {"values": [{}]}, "mark": {"type": "text", "align": "left", "baseline": "alphabetic", "dy": 13, "fontSize": 9.5, "font": "Liberation Sans", "color": "#000000"},
    "encoding": {"x": {"datum": 0.375, "type": "quantitative"}, "y": {"datum": 176.032, "type": "quantitative"}, "text": {"value": "AOcust 37.766"}}}
  ]
 },
 {
  "width": 1220, "height": 99,
  "layer": [
   {"data": {"name": "ind"},
    "transform": [{"filter": "isValid(datum.ac)"}],
    "mark": {"type": "bar", "size": 4, "clip": true},
    "encoding": {
     "x": {"field": "i", "type": "quantitative", "scale": {"domain": [-0.125, 152.375], "nice": false, "zero": false}, "axis": null},
     "y": {"field": "ac", "type": "quantitative", "scale": {"domain": [-62.8447, 49.9793], "nice": false, "zero": false},
           "axis": {"orient": "right", "title": null, "values": [-62.8447, 49.9793], "labelExpr": "datum.value > 0 ? '49.9793' : '-62.8447'", "labelFlush": true, "labelFlushOffset": 0}},
     "y2": {"datum": 0},
     "color": {"condition": {"test": "datum.acc == 'g'", "value": "#008000"}, "value": "#ff0000"}
    }},
   {"data": {"values": [{}]}, "mark": {"type": "text", "align": "left", "baseline": "alphabetic", "dy": 13, "fontSize": 9.5, "font": "Liberation Sans", "color": "#000000"},
    "encoding": {"x": {"datum": 0.375, "type": "quantitative"}, "y": {"datum": 49.9793, "type": "quantitative"}, "text": {"value": "ACcust 0.1915"}}}
  ]
 },
 {
  "width": 1220, "height": 100,
  "layer": [
   {"data": {"name": "ind"},
    "transform": [{"filter": "isValid(datum.gu)"}],
    "mark": {"type": "bar", "size": 4, "clip": true},
    "encoding": {
     "x": {"field": "i", "type": "quantitative", "scale": {"domain": [-0.125, 152.375], "nice": false, "zero": false},
           "axis": {"orient": "bottom", "title": null, "tickCount": 40, "values": [0,8,16,24,32,40,48,56,64,72,80,88,96,104,112,120,128,136],
                    "labelExpr": "['18 Aug 2026','19 Aug 06:00','19 Aug 14:00','19 Aug 22:00','20 Aug 10:00','20 Aug 18:00','21 Aug 06:00','21 Aug 14:00','21 Aug 22:00','24 Aug 10:00','24 Aug 18:00','25 Aug 06:00','25 Aug 14:00','25 Aug 22:00','26 Aug 10:00','26 Aug 18:00','27 Aug 06:00','27 Aug 14:00'][round(datum.value/8)]",
                    "labelAlign": "left", "labelBaseline": "top", "tickSize": 4, "labelPadding": 2, "labelFlush": false, "labelOverlap": false}},
     "y": {"field": "gu", "type": "quantitative", "scale": {"domain": [-80.808, 83.175], "nice": false, "zero": false},
           "axis": {"orient": "right", "title": null, "values": [-80.808, 83.175], "labelExpr": "datum.value > 0 ? '83.175' : '-80.808'", "labelFlush": true, "labelFlushOffset": 0}},
     "y2": {"datum": 0},
     "color": {"condition": {"test": "datum.guc == 'g'", "value": "#008000"}, "value": "#ff0000"}
    }},
   {"data": {"name": "ind"},
    "transform": [{"filter": "isValid(datum.gd)"}],
    "mark": {"type": "bar", "size": 4, "clip": true},
    "encoding": {
     "x": {"field": "i", "type": "quantitative"},
     "y": {"field": "gd", "type": "quantitative"},
     "y2": {"datum": 0},
     "color": {"condition": {"test": "datum.gdc == 'g'", "value": "#008000"}, "value": "#ff0000"}
    }},
   {"data": {"values": [{}]}, "mark": {"type": "text", "align": "left", "baseline": "alphabetic", "dy": 13, "fontSize": 9.5, "font": "Liberation Sans", "color": "#000000"},
    "encoding": {"x": {"datum": 0.375, "type": "quantitative"}, "y": {"datum": 83.175, "type": "quantitative"}, "text": {"value": "GatorCust 24.508 -17.622"}}}
  ]
 }
]
}
